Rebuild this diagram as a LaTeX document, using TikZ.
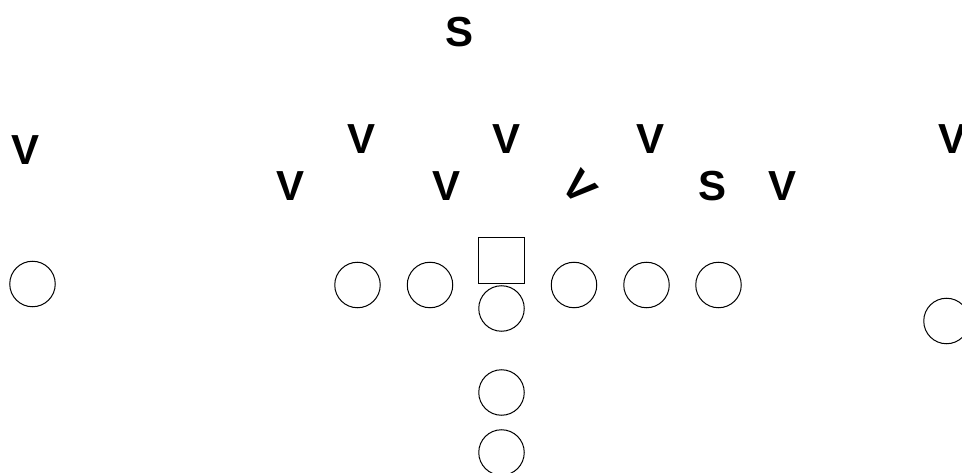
\documentclass[tikz,border=0pt]{standalone}
\usepackage{fontspec}
\setmainfont{Liberation Sans}
\begin{document}
\begin{tikzpicture}[x=1pt,y=-1pt,
  lbl/.style={inner sep=0pt, outer sep=0pt, font=\fontsize{42}{42}\selectfont\bfseries},
  player/.style={circle, draw=black, line width=1pt, minimum size=45.5pt, inner sep=0pt},
  centerbox/.style={rectangle, draw=black, line width=1pt, minimum size=46pt, inner sep=0pt}]
\useasboundingbox (0,0) rectangle (962,473);
\clip (0,0) rectangle (962,473);
% defense letters
\node[lbl] (s1) at (459.5,32) {S};
\node[lbl] (v1) at (26,150) {V};
\node[lbl] (v2) at (362,139) {V};
\node[lbl] (v3) at (507,139) {V};
\node[lbl] (v4) at (650.5,139) {V};
\node[lbl] (v5) at (952,139) {V};
\node[lbl] (v6) at (290.5,186) {V};
\node[lbl] (v7) at (446.5,186) {V};
\node[lbl, rotate=-48] (v8) at (580,187.5) {V};
\node[lbl] (s2) at (712.5,186) {S};
\node[lbl] (v9) at (782.5,186) {V};
% offense
\node[player] (o1) at (32.5,284) {};
\node[player] (o2) at (357.5,285) {};
\node[player] (o3) at (430,285) {};
\node[centerbox] (c) at (501.5,260.5) {};
\node[player] (o4) at (574,285) {};
\node[player] (o5) at (646.5,285) {};
\node[player] (o6) at (718.5,285) {};
\node[player] (qb) at (501.5,308.5) {};
\node[player] (rb1) at (501.5,392.5) {};
\node[player] (rb2) at (501.5,452.5) {};
\node[player] (wr) at (946.5,321) {};
\end{tikzpicture}
\end{document}
